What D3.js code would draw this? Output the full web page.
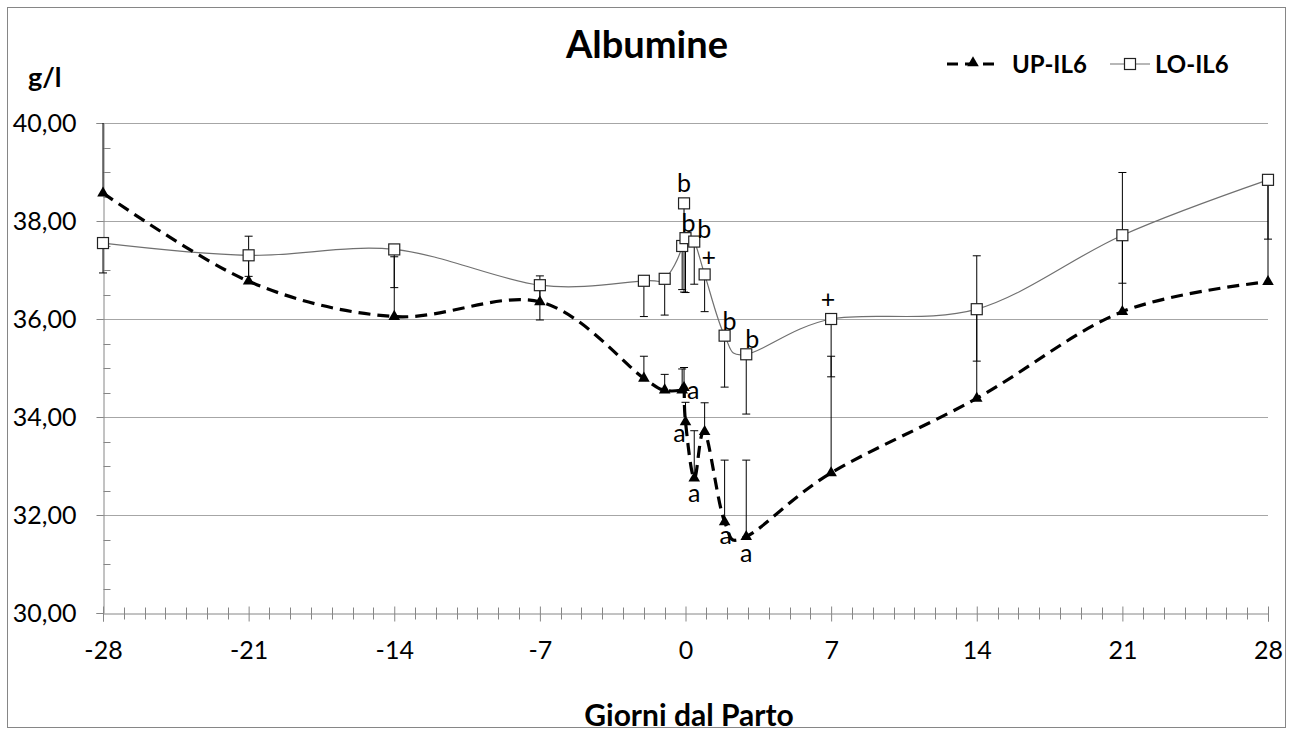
<!DOCTYPE html>
<html>
<head>
<meta charset="utf-8">
<script src="https://cdn.jsdelivr.net/npm/d3@7"></script>
<style>
  body { margin: 0; background: #fff; }
  text { font-family: Lato, "Open Sans", sans-serif; }
</style>
</head>
<body>
<div id="chart"></div>
<script>
// days from calving (x) and the two series
var giorni = [-28, -21, -14, -7, -2, -1, -0.16, -0.07, 0, 0.42, 0.92, 1.88, 2.92, 7, 14, 21, 28];

var upIL6 = [38.57, 36.77, 36.05, 36.35, 34.79, 34.55, 34.55, 34.6, 33.9, 32.75, 33.7, 31.86, 31.56, 32.86, 34.38, 36.15, 36.76];
var upErr = [1.75, 0.92, 1.22, 0.53, 0.45, 0.32, 0.43, 0.41, 0.4, 0.97, 0.59, 1.26, 1.56, 2.38, 2.91, 2.84, 2.04];

var loIL6 = [37.55, 37.3, 37.42, 36.69, 36.78, 36.82, 37.49, 38.36, 37.65, 37.58, 36.91, 35.66, 35.28, 36.0, 36.2, 37.71, 38.84];
var loErr = [0.61, 0.43, 0.78, 0.71, 0.73, 0.74, 0.89, 1.81, 1.11, 0.87, 0.76, 1.05, 1.22, 1.18, 1.06, 0.98, 1.21];

// significance letters (index into giorni)
var upSig = [[6, "a"], [8, "a"], [9, "a"], [11, "a"], [12, "a"]];
var loSig = [[7, "b"], [8, "b"], [9, "b"], [10, "+"], [11, "b"], [12, "b"], [13, "+"]];

var xTicks = [-28, -21, -14, -7, 0, 7, 14, 21, 28];
var yTicks = [30, 32, 34, 36, 38, 40];

var w = 1293, h = 735;
var svg = d3.select("#chart").append("svg")
  .attr("width", w).attr("height", h);

// outer frame
svg.append("rect")
  .attr("x", 7.5).attr("y", 7.5).attr("width", 1278).attr("height", 720)
  .attr("fill", "none").attr("stroke", "#868686");

var x = d3.scaleLinear().domain([-28, 28]).range([103, 1268]);
var y = d3.scaleLinear().domain([30, 40]).range([613, 123]);

svg.append("clipPath").attr("id", "plot")
  .append("rect").attr("x", 90).attr("y", 123).attr("width", 1200).attr("height", 490);

// gridlines
svg.selectAll(".grid")
  .data(yTicks.slice(1))
  .enter().append("line")
  .attr("x1", 103).attr("x2", 1268)
  .attr("y1", function(d) { return Math.round(y(d)) + 0.5; })
  .attr("y2", function(d) { return Math.round(y(d)) + 0.5; })
  .attr("stroke", "#a6a6a6").attr("stroke-width", 1);

// y axis
var yAxis = d3.axisLeft(y).tickValues(yTicks).tickSize(7)
  .tickFormat(function(d) { return d3.format(".2f")(d).replace(".", ","); });
var gy = svg.append("g").attr("transform", "translate(103.5,0)").call(yAxis);
gy.select(".domain").attr("stroke", "#868686");
gy.selectAll(".tick line").attr("stroke", "#868686");
gy.selectAll(".tick text").attr("x", -27).attr("font-size", "25px").attr("fill", "#000");
var yMinor = d3.range(30.5, 40, 0.5).filter(function(d) { return d % 2 !== 0; });
gy.selectAll(".minor").data(yMinor).enter().append("line")
  .attr("x1", 0).attr("x2", 7)
  .attr("y1", function(d) { return Math.round(y(d)) + 0.5; })
  .attr("y2", function(d) { return Math.round(y(d)) + 0.5; })
  .attr("stroke", "#868686");

// x axis
var xAxis = d3.axisBottom(x).tickValues(xTicks).tickSize(8)
  .tickFormat(function(d) { return String(d); });
var gx = svg.append("g").attr("transform", "translate(0,613.5)").call(xAxis);
gx.select(".domain").attr("stroke", "#868686");
gx.selectAll(".tick line").attr("y1", -7).attr("stroke", "#868686");
gx.selectAll(".tick text").attr("y", 28).attr("font-size", "25px").attr("fill", "#000");
var xMinor = d3.range(-27, 28).filter(function(d) { return d % 7 !== 0; });
gx.selectAll(".minor").data(xMinor).enter().append("line")
  .attr("x1", function(d) { return Math.round(x(d)) + 0.5; })
  .attr("x2", function(d) { return Math.round(x(d)) + 0.5; })
  .attr("y1", -6).attr("y2", 6)
  .attr("stroke", "#868686");

var plot = svg.append("g").attr("clip-path", "url(#plot)");

// error bars: UP upward, LO downward
function errBars(vals, errs, dir) {
  var g = plot.append("g");
  g.selectAll("line.v").data(vals).enter().append("line")
    .attr("x1", function(d, i) { return x(giorni[i]); })
    .attr("x2", function(d, i) { return x(giorni[i]); })
    .attr("y1", function(d) { return y(d); })
    .attr("y2", function(d, i) { return y(d + dir * errs[i]); })
    .attr("stroke", "#000").attr("stroke-width", 1);
  g.selectAll("line.c").data(vals).enter().append("line")
    .attr("x1", function(d, i) { return x(giorni[i]) - 4; })
    .attr("x2", function(d, i) { return x(giorni[i]) + 4; })
    .attr("y1", function(d, i) { return y(d + dir * errs[i]); })
    .attr("y2", function(d, i) { return y(d + dir * errs[i]); })
    .attr("stroke", "#000").attr("stroke-width", 1);
}
errBars(loIL6, loErr, -1);
errBars(upIL6, upErr, 1);

// smoothed lines
function line(vals) {
  return d3.line()
    .x(function(d, i) { return x(giorni[i]); })
    .y(function(d) { return y(d); })
    .curve(d3.curveCardinal.tension(0))(vals);
}
plot.append("path").attr("d", line(loIL6))
  .attr("fill", "none").attr("stroke", "#707070").attr("stroke-width", 1.2);
plot.append("path").attr("d", line(upIL6))
  .attr("fill", "none").attr("stroke", "#000").attr("stroke-width", 3.2)
  .attr("stroke-dasharray", "12,7");

// markers
var tri = d3.symbol().type(d3.symbolTriangle).size(58);
plot.selectAll(".up").data(upIL6).enter().append("path")
  .attr("d", tri)
  .attr("transform", function(d, i) { return "translate(" + x(giorni[i]) + "," + y(d) + ")"; })
  .attr("fill", "#000");
plot.selectAll(".lo").data(loIL6).enter().append("rect")
  .attr("x", function(d, i) { return x(giorni[i]) - 5.5; })
  .attr("y", function(d) { return y(d) - 5.5; })
  .attr("width", 11).attr("height", 11)
  .attr("fill", "#fff").attr("stroke", "#222").attr("stroke-width", 1.2);

// letters
var upOff = [[11, 9], [-6, 20], [0, 24], [1, 22], [0, 25]];
var loOff = [[0, -11], [3, -6], [10, -4], [4, -8], [5, -6], [6, -6], [-3, -11]];
svg.selectAll(".sigU").data(upSig).enter().append("text")
  .attr("x", function(d, i) { return x(giorni[d[0]]) + upOff[i][0]; })
  .attr("y", function(d, i) { return y(upIL6[d[0]]) + upOff[i][1]; })
  .attr("text-anchor", "middle").attr("font-size", "25px")
  .text(function(d) { return d[1]; });
svg.selectAll(".sigL").data(loSig).enter().append("text")
  .attr("x", function(d, i) { return x(giorni[d[0]]) + loOff[i][0]; })
  .attr("y", function(d, i) { return y(loIL6[d[0]]) + loOff[i][1]; })
  .attr("text-anchor", "middle").attr("font-size", "25px")
  .text(function(d) { return d[1]; });

// titles
svg.append("text").attr("x", 647).attr("y", 58).attr("text-anchor", "middle")
  .attr("font-size", "38px").attr("font-weight", "bold").text("Albumine");
svg.append("text").attr("x", 28).attr("y", 87)
  .attr("font-size", "27px").attr("font-weight", "bold").text("g/l");
svg.append("text").attr("x", 689).attr("y", 726).attr("text-anchor", "middle")
  .attr("font-size", "30px").attr("font-weight", "bold").text("Giorni dal Parto");

// legend
var lg = svg.append("g");
lg.append("line").attr("x1", 947).attr("x2", 999).attr("y1", 64).attr("y2", 64)
  .attr("stroke", "#000").attr("stroke-width", 3.2).attr("stroke-dasharray", "11,7");
lg.append("path").attr("d", tri).attr("transform", "translate(973,63)").attr("fill", "#000");
lg.append("text").attr("x", 1012).attr("y", 73)
  .attr("font-size", "24px").attr("font-weight", "bold").text("UP-IL6");
lg.append("line").attr("x1", 1110).attr("x2", 1150).attr("y1", 64).attr("y2", 64)
  .attr("stroke", "#707070").attr("stroke-width", 1.2);
lg.append("rect").attr("x", 1124.5).attr("y", 58.5).attr("width", 11).attr("height", 11)
  .attr("fill", "#fff").attr("stroke", "#222").attr("stroke-width", 1.2);
lg.append("text").attr("x", 1155).attr("y", 73)
  .attr("font-size", "24px").attr("font-weight", "bold").text("LO-IL6");
</script>
</body>
</html>
